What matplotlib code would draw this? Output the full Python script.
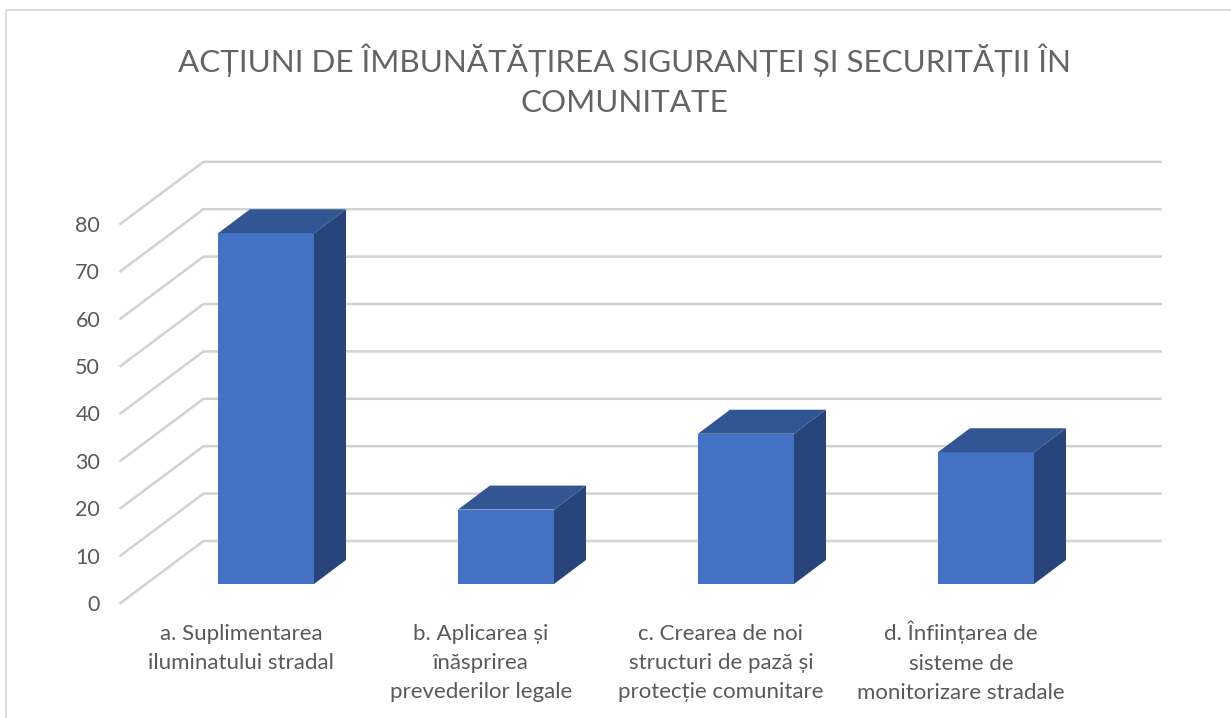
import matplotlib
matplotlib.use("Agg")
import matplotlib.pyplot as plt
from matplotlib.lines import Line2D
from matplotlib.patches import Polygon
from matplotlib.transforms import ScaledTranslation

plt.rcParams['font.family'] = ['Lato', 'Open Sans', 'DejaVu Sans']

title = "ACȚIUNI DE ÎMBUNĂTĂȚIREA SIGURANȚEI ȘI SECURITĂȚII ÎN\nCOMUNITATE"
categories = [
    "a. Suplimentarea\niluminatului stradal",
    "b. Aplicarea și\nînăsprirea\nprevederilor legale",
    "c. Crearea de noi\nstructuri de pază și\nprotecție comunitare",
    "d. Înființarea de\nsisteme de\nmonitorizare stradale",
]
values = [74, 15.7, 31.7, 27.8]
ticks = [0, 10, 20, 30, 40, 50, 60, 70, 80]

W, H = 1231, 718
text_color = "#595959"
grid_color = "#d2d2d2"

fig = plt.figure(figsize=(W / 100, H / 100), dpi=100, facecolor="white")
# the axes is the plane of the bar fronts, everything else is offset from it
ax = fig.add_axes([146 / W, 1 - 584 / H, 960 / W, 379.2 / H])
ax.set_xlim(-0.5, 3.5)
ax.set_ylim(0, 80)
ax.patch.set_visible(False)
for s in ax.spines.values():
    s.set_visible(False)

bar_w = 0.4
bar_dx, bar_dy = 32 / 240, 24 / 4.74        # depth of a bar
back_dx, back_dy = 57.5 / 240, 43 / 4.74    # plane to back wall
front_dx, front_dy = -25.5 / 240, -19 / 4.74  # plane to front of floor

# gridlines: slanted part on the side wall, straight part on the back wall
for t in ticks:
    ax.plot([-0.5 + front_dx, -0.5 + back_dx, 3.5 + back_dx - 0.012],
            [t + front_dy, t + back_dy, t + back_dy],
            color=grid_color, lw=1.8, clip_on=False, zorder=1,
            solid_joinstyle="miter")

pos = range(len(values))
ax.bar(pos, values, width=bar_w, color="#4472C4", zorder=3)
for p, v in zip(pos, values):
    l, r = p - bar_w / 2, p + bar_w / 2
    ax.add_patch(Polygon([(l, v), (r, v), (r + bar_dx, v + bar_dy), (l + bar_dx, v + bar_dy)],
                         closed=True, fc="#325694", ec="none", zorder=3, clip_on=False))
    ax.add_patch(Polygon([(r, 0), (r + bar_dx, bar_dy), (r + bar_dx, v + bar_dy), (r, v)],
                         closed=True, fc="#27457A", ec="none", zorder=3, clip_on=False))

ax.set_xticks(list(pos))
ax.set_xticklabels(categories, fontsize=16, color=text_color, linespacing=1.58)
ax.set_yticks(ticks)
ax.set_yticklabels([str(t) for t in ticks], fontsize=15.5, color=text_color)
ax.tick_params(length=0)

# shift the tick labels out to the front edge of the floor
for i, lab in enumerate(ax.get_xticklabels()):
    up = 3 if i == 3 else 0  # the Î makes the first line sit lower
    lab.set_transform(lab.get_transform() + ScaledTranslation(-25 / 100, (up - 35) / 100, fig.dpi_scale_trans))
for lab in ax.get_yticklabels():
    lab.set_transform(lab.get_transform() + ScaledTranslation(-41 / 100, -19 / 100, fig.dpi_scale_trans))

fig.text(624 / W, 1 - 80 / H, title, ha="center", va="center", fontsize=22.6,
         color="#646464", linespacing=1.5)

# chart border, cut off by the image on the right and bottom
fig.add_artist(Line2D([6 / W, 6 / W, 1], [0, 1 - 10 / H, 1 - 10 / H], color="#d9d9d9", lw=1.3))

fig.savefig("out.png", dpi=100)
